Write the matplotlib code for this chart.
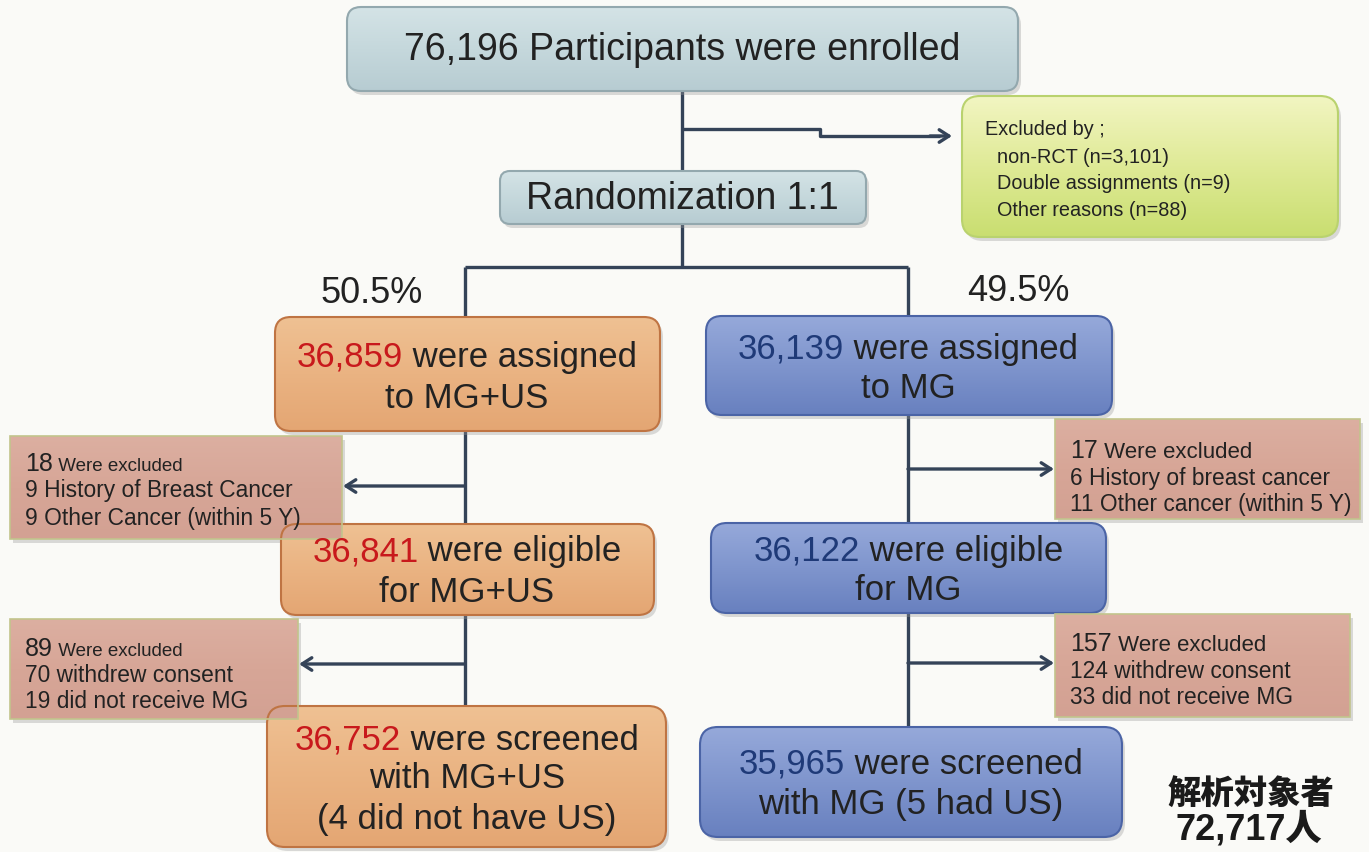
import numpy as np
import matplotlib
matplotlib.use("Agg")
import matplotlib.pyplot as plt
from matplotlib import font_manager
from matplotlib.patches import FancyBboxPatch
from matplotlib.colors import LinearSegmentedColormap

# ---------------- data ----------------
enrolled = 76196
pre_excl_labels = ["non-RCT", "Double assignments", "Other reasons"]
pre_excl_n = [3101, 9, 88]
arm_pct = [50.5, 49.5]
arm_names = ["MG+US", "MG"]
assigned = [36859, 36139]
excl1_total = [18, 17]
excl1_reasons = [["History of Breast Cancer", "Other Cancer (within 5 Y)"],
                 ["History of breast cancer", "Other cancer (within 5 Y)"]]
excl1_n = [[9, 9], [6, 11]]
eligible = [36841, 36122]
excl2_total = [89, 157]
excl2_reasons = [["withdrew consent", "did not receive MG"],
                 ["withdrew consent", "did not receive MG"]]
excl2_n = [[70, 19], [124, 33]]
screened = [36752, 35965]
screened_note = ["(4 did not have US)", "(5 had US)"]
analysed_label = "解析対象者"
analysed_n = 72717

# ---------------- figure ----------------
W, H = 1369, 853
plt.rcParams["font.family"] = ["Liberation Sans", "DejaVu Sans"]
fig = plt.figure(figsize=(W / 100, H / 100), dpi=100)
ax = fig.add_axes([0, 0, 1, 1])
ax.set_xlim(0, W)
ax.set_ylim(H, 0)
ax.axis("off")
fig.patch.set_facecolor("#fafaf7")

names = {f.name for f in font_manager.fontManager.ttflist}
if "Liberation Sans Narrow" in names:
    NARROW, NS = ["Liberation Sans Narrow"], 1.0
else:
    NARROW, NS = ["Liberation Sans"], 0.82

LINE = "#344358"
RED = "#c8191c"
NAVY = "#1f3a78"
TXT = "#222222"
renderer = fig.canvas.get_renderer()


def grad_box(x0, y0, x1, y1, colors, edge, r=14, shadow=True, lw=1.5, square=False):
    style = "square,pad=0" if square else f"round,pad=0,rounding_size={r}"
    if shadow:
        sh = FancyBboxPatch((x0 + 3, y0 + 4), x1 - x0, y1 - y0, boxstyle=style,
                            fc="#9a9a9a", ec="none", alpha=0.35, zorder=1)
        ax.add_patch(sh)
    p = FancyBboxPatch((x0, y0), x1 - x0, y1 - y0, boxstyle=style,
                       fc="none", ec=edge, lw=lw, zorder=3)
    ax.add_patch(p)
    cmap = LinearSegmentedColormap.from_list("g", colors)
    g = np.linspace(0, 1, 256).reshape(-1, 1)
    im = ax.imshow(g, cmap=cmap, extent=(x0, x1, y1, y0), aspect="auto", zorder=2,
                   interpolation="bilinear")
    clip = FancyBboxPatch((x0, y0), x1 - x0, y1 - y0, boxstyle=style,
                          fc="none", ec="none", transform=ax.transData)
    im.set_clip_path(clip)


def multicolor(xc, y, parts, va="center", ha="center"):
    texts, widths = [], []
    for s, c, fs, fam in parts:
        t = ax.text(0, y, s, color=c, fontsize=fs, va=va, ha="left", zorder=5, family=fam)
        widths.append(t.get_window_extent(renderer).width)
        texts.append(t)
    total = sum(widths)
    start = xc - total / 2 if ha == "center" else xc
    for t, w in zip(texts, widths):
        t.set_x(start)
        start += w


def line(xs, ys, lw=2.4):
    ax.plot(xs, ys, color=LINE, lw=lw, zorder=0.5, solid_capstyle="butt")


def arrow(x0, y, x1, lw=2.4):
    ax.annotate("", xy=(x1, y), xytext=(x0, y),
                arrowprops=dict(arrowstyle="->,head_length=0.7,head_width=0.45",
                                color=LINE, lw=lw, shrinkA=0, shrinkB=0), zorder=0.6)


fmt = lambda n: f"{n:,}"
REG = ["Liberation Sans"]

# ---------------- connectors ----------------
cx = 682
arm_x = [465, 908]
line([cx, cx], [92, 172])
line([cx, 820, 820, 940], [130, 130, 137, 137])
arrow(930, 137, 952)
line([cx, cx], [225, 268])
line([arm_x[0], arm_x[1]], [268, 268])
for xa in arm_x:
    line([xa, xa], [268, 320])
line([arm_x[0], arm_x[0]], [432, 525])
line([arm_x[0], arm_x[0]], [616, 708])
line([arm_x[1], arm_x[1]], [416, 524])
line([arm_x[1], arm_x[1]], [614, 728])
arrow(arm_x[0], 487, 343)
arrow(arm_x[0], 665, 299)
arrow(arm_x[1], 470, 1054)
arrow(arm_x[1], 664, 1054)

# ---------------- top boxes ----------------
grey = ["#d4e3e6", "#c5d8dc", "#b7ccd2"]
grad_box(347, 8, 1018, 92, grey, "#93a8ae")
ax.text(cx, 50, f"{fmt(enrolled)} Participants were enrolled", fontsize=27,
        color=TXT, ha="center", va="center", zorder=5)
grad_box(500, 172, 866, 225, grey, "#93a8ae", r=10)
ax.text(cx, 199, "Randomization 1:1", fontsize=27, color=TXT,
        ha="center", va="center", zorder=5)

green = ["#f2f5c2", "#dfea96", "#c9de70"]
grad_box(962, 97, 1338, 238, green, "#b9d26e", r=18)
ax.text(985, 129, "Excluded by ;", fontsize=17.5 * NS, color=TXT, va="center", zorder=5,
        family=NARROW)
for i, (lab, n) in enumerate(zip(pre_excl_labels, pre_excl_n)):
    ax.text(997, 157 + i * 26.5, f"{lab} (n={fmt(n)})", fontsize=17.5 * NS, color=TXT,
            va="center", zorder=5, family=NARROW)

# percentages
ax.text(372, 293, f"{arm_pct[0]}%", fontsize=26, color=TXT, ha="center", va="center")
ax.text(1018, 291, f"{arm_pct[1]}%", fontsize=26, color=TXT, ha="center", va="center")

# ---------------- arm boxes ----------------
orange = ["#efc193", "#eab382", "#e4a673"]
o_edge = "#bf7443"
blue = ["#96a9da", "#7f95cd", "#6880bf"]
b_edge = "#4b64a6"
FS = 25

grad_box(275, 318, 660, 432, orange, o_edge, r=16)
multicolor(467, 357, [(fmt(assigned[0]), RED, FS, REG), (" were assigned", TXT, FS, REG)])
ax.text(467, 398, f"to {arm_names[0]}", fontsize=FS, color=TXT, ha="center", va="center", zorder=5)
grad_box(706, 317, 1112, 416, blue, b_edge, r=16)
multicolor(908, 349, [(fmt(assigned[1]), NAVY, FS, REG), (" were assigned", TXT, FS, REG)])
ax.text(908, 389, f"to {arm_names[1]}", fontsize=FS, color=TXT, ha="center", va="center", zorder=5)

grad_box(281, 525, 654, 616, orange, o_edge, r=16)
multicolor(467, 552, [(fmt(eligible[0]), RED, FS, REG), (" were eligible", TXT, FS, REG)])
ax.text(467, 592, f"for {arm_names[0]}", fontsize=FS, color=TXT, ha="center", va="center", zorder=5)
grad_box(711, 524, 1106, 614, blue, b_edge, r=16)
multicolor(908, 551, [(fmt(eligible[1]), NAVY, FS, REG), (" were eligible", TXT, FS, REG)])
ax.text(908, 591, f"for {arm_names[1]}", fontsize=FS, color=TXT, ha="center", va="center", zorder=5)

grad_box(267, 707, 666, 848, orange, o_edge, r=18)
multicolor(467, 740, [(fmt(screened[0]), RED, FS, REG), (" were screened", TXT, FS, REG)])
ax.text(467, 779, f"with {arm_names[0]}", fontsize=FS, color=TXT, ha="center", va="center", zorder=5)
ax.text(467, 820, screened_note[0], fontsize=FS, color=TXT, ha="center", va="center", zorder=5)
grad_box(700, 728, 1122, 838, blue, b_edge, r=18)
multicolor(911, 764, [(fmt(screened[1]), NAVY, FS, REG), (" were screened", TXT, FS, REG)])
ax.text(911, 805, f"with {arm_names[1]} {screened_note[1]}", fontsize=FS, color=TXT,
        ha="center", va="center", zorder=5)

# ---------------- exclusion boxes ----------------
pink = ["#dcafa1", "#d7a697", "#d3a193"]
ex_edge = "#c2c48c"
boxes = [
    (10, 437, 342, 540, excl1_total[0], excl1_n[0], excl1_reasons[0], 13.5, 471, [491, 518]),
    (10, 620, 298, 720, excl2_total[0], excl2_n[0], excl2_reasons[0], 13.5, 656, [675, 702]),
    (1055, 420, 1360, 520, excl1_total[1], excl1_n[1], excl1_reasons[1], 16, 458, [478, 505]),
    (1055, 615, 1350, 718, excl2_total[1], excl2_n[1], excl2_reasons[1], 16, 651, [671, 698]),
]
for (x0, y0, x1, y1, tot, ns, reasons, fs_small, base, ys) in boxes:
    grad_box(x0, y0, x1, y1, pink, ex_edge, square=True, lw=1.2)
    tx = x0 + 15
    multicolor(tx, base, [(str(tot), TXT, 22 * NS, NARROW), (" Were excluded", TXT, fs_small, REG)],
               va="baseline", ha="left")
    for n, r, yy in zip(ns, reasons, ys):
        ax.text(tx, yy, f"{n} {r}", fontsize=20 * NS, color=TXT, va="center", zorder=5,
                family=NARROW)

# ---------------- analysed total ----------------
ax.text(1251, 793, analysed_label, fontsize=24, fontweight="heavy", color="#1a1a1a",
        ha="center", va="center", family=["Noto Sans CJK JP"])
ax.text(1249, 830, f"{fmt(analysed_n)}人", fontsize=26, fontweight="heavy", color="#1a1a1a",
        ha="center", va="center", family=["Liberation Sans", "Noto Sans CJK JP"])

fig.savefig("out.png", dpi=100, facecolor=fig.get_facecolor())
